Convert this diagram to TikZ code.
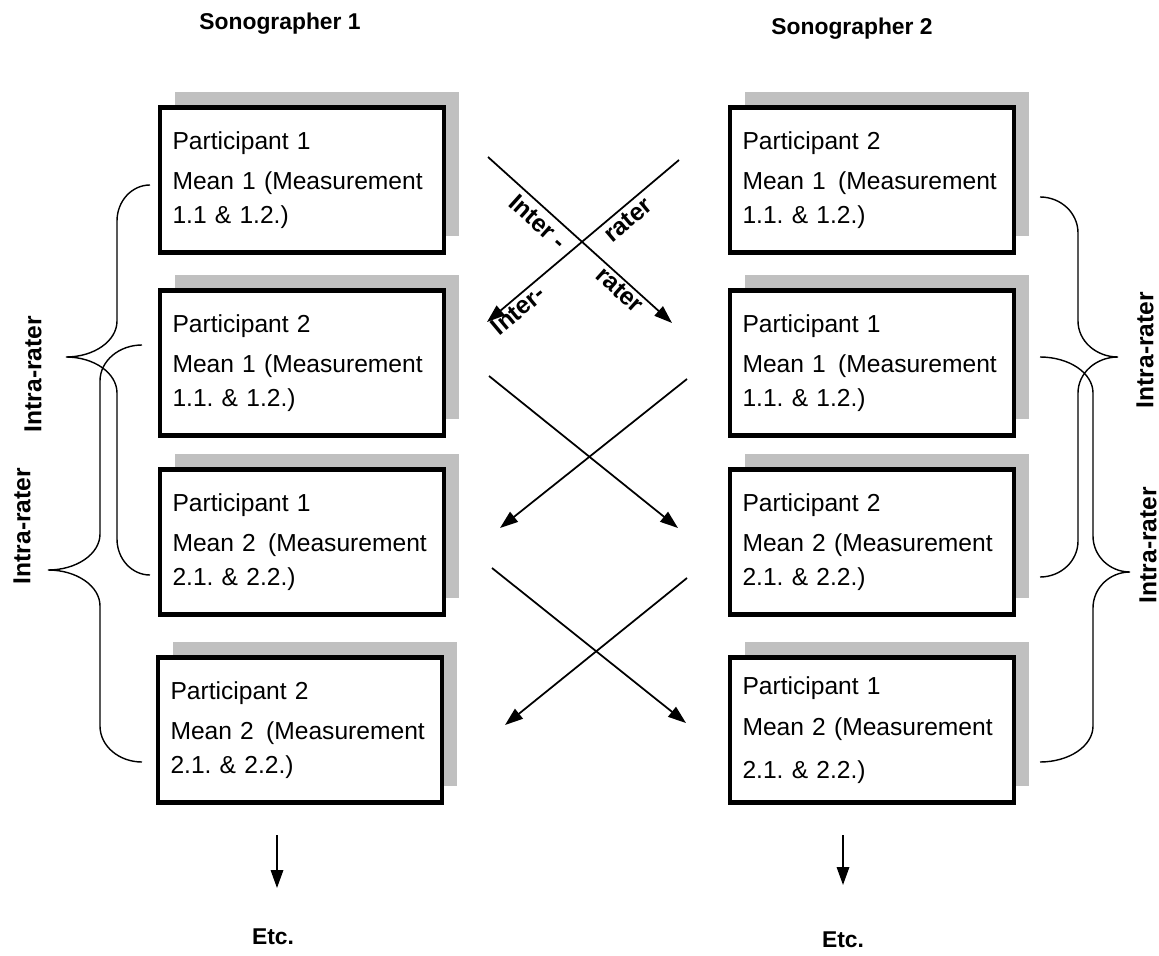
\documentclass[tikz,border=0pt]{standalone}
\usepackage{fontspec}
\setmainfont{Liberation Sans}
\usepackage{tikz}
\usetikzlibrary{arrows.meta,shadows}
\definecolor{sombra}{RGB}{192,192,192}
\frenchspacing

\begin{document}
\begin{tikzpicture}[x=0.02cm, y=-0.02cm,
  caja/.style={draw, line width=2.6pt, fill=white, minimum height=2.9cm,
    text width=5.18cm, inner xsep=0.25cm, inner ysep=0pt, align=left,
    font=\fontsize{14}{19.5}\selectfont,
    drop shadow={shadow xshift=0.3cm, shadow yshift=0.32cm, fill=sombra, opacity=1}},
  titulo/.style={font=\fontsize{13}{15}\selectfont\bfseries},
  etiqueta/.style={font=\fontsize{14}{16}\selectfont\bfseries, inner sep=0pt},
  flecha/.style={line width=1pt, -{Triangle[length=0.36cm, width=0.25cm]}},
  llave/.style={line width=0.8pt}]
	\useasboundingbox (0,0) rectangle (1159,956);

	% Dibujar los titulos
	\node[titulo] (son1) at (280,24) {Sonographer 1};
	\node[titulo] (son2) at (852,29) {Sonographer 2};

	% Dibujar las cajas de la izquierda
	\node[caja] (izq1) at (302,180) {Participant 1\\[3.5pt] Mean 1 (Measurement\\ 1.1 \& 1.2.)};
	\node[caja] (izq2) at (302,363) {Participant 2\\[3.5pt] Mean 1 (Measurement\\ 1.1. \& 1.2.)};
	\node[caja] (izq3) at (302,542) {Participant 1\\[3.5pt] Mean 2\,\ (Measurement\\ 2.1. \& 2.2.)};
	\node[caja] (izq4) at (300,730) {Participant 2\\[3.5pt] Mean 2\,\ (Measurement\\ 2.1. \& 2.2.)};

	% Dibujar las cajas de la derecha
	\node[caja] (der1) at (872,180) {Participant 2\\[3.5pt] Mean 1\,\ (Measurement\\ 1.1. \& 1.2.)};
	\node[caja] (der2) at (872,363) {Participant 1\\[3.5pt] Mean 1\,\ (Measurement\\ 1.1. \& 1.2.)};
	\node[caja] (der3) at (872,542) {Participant 2\\[3.5pt] Mean 2 (Measurement\\ 2.1. \& 2.2.)};
	\node[caja] (der4) at (872,730) {Participant 1\\[3.5pt] Mean 2 (Measurement\\[5pt] 2.1. \& 2.2.)};

	% Puntos de las flechas cruzadas
	\coordinate (a1s) at (488,157); \coordinate (a1e) at (672,323);
	\coordinate (b1s) at (679,160); \coordinate (b1e) at (487,322);
	\coordinate (a2s) at (489,376); \coordinate (a2e) at (678,528);
	\coordinate (b2s) at (687,379); \coordinate (b2e) at (500,528);
	\coordinate (a3s) at (492,568); \coordinate (a3e) at (686,723);
	\coordinate (b3s) at (687,578); \coordinate (b3e) at (505,725);

	% Dibujar las flechas
	\foreach \a/\b in {a1s/a1e, b1s/b1e, a2s/a2e, b2s/b2e, a3s/a3e, b3s/b3e}
		\draw[flecha] (\a) -- (\b);

	% Etiquetas inter-rater
	\node[etiqueta, rotate=-42] (inter1) at (538,222) {Inter -};
	\node[etiqueta, rotate=40] (rater1) at (628,220) {rater};
	\node[etiqueta, rotate=40] (inter2) at (518,310) {Inter-};
	\node[etiqueta, rotate=-42] (rater2) at (620,290) {rater};

	% Dibujar las llaves (extremo, lomo, punta, arriba, medio, abajo)
	\foreach \e/\s/\t/\ya/\ym/\yb in {150/117/66/185/357/575, 142/100/48/345/570/762,
	                                  1040/1078/1118/197/357/577, 1040/1093/1130/357/572/762}
		\draw[llave] (\e,\ya) .. controls ({\s+0.45*(\e-\s)},\ya) and (\s,\ya+16) .. (\s,\ya+36)
			-- (\s,\ym-36) .. controls (\s,\ym-16) and ({\t+0.55*(\s-\t)},\ym) .. (\t,\ym)
			.. controls ({\t+0.55*(\s-\t)},\ym) and (\s,\ym+16) .. (\s,\ym+36)
			-- (\s,\yb-36) .. controls (\s,\yb-16) and ({\s+0.45*(\e-\s)},\yb) .. (\e,\yb);

	% Etiquetas intra-rater
	\node[etiqueta, rotate=90] (intra1) at (33,374) {Intra-rater};
	\node[etiqueta, rotate=90] (intra2) at (22,526) {Intra-rater};
	\node[etiqueta, rotate=90] (intra3) at (1145,350) {Intra-rater};
	\node[etiqueta, rotate=90] (intra4) at (1148,545) {Intra-rater};

	% Flechas finales
	\coordinate (e1s) at (277,835); \coordinate (e1e) at (277,888);
	\coordinate (e2s) at (843,835); \coordinate (e2e) at (843,885);
	\draw[flecha] (e1s) -- (e1e);
	\draw[flecha] (e2s) -- (e2e);
	\node[titulo] (etc1) at (273,937) {Etc.};
	\node[titulo] (etc2) at (843,940) {Etc.};

\end{tikzpicture}
\end{document}
